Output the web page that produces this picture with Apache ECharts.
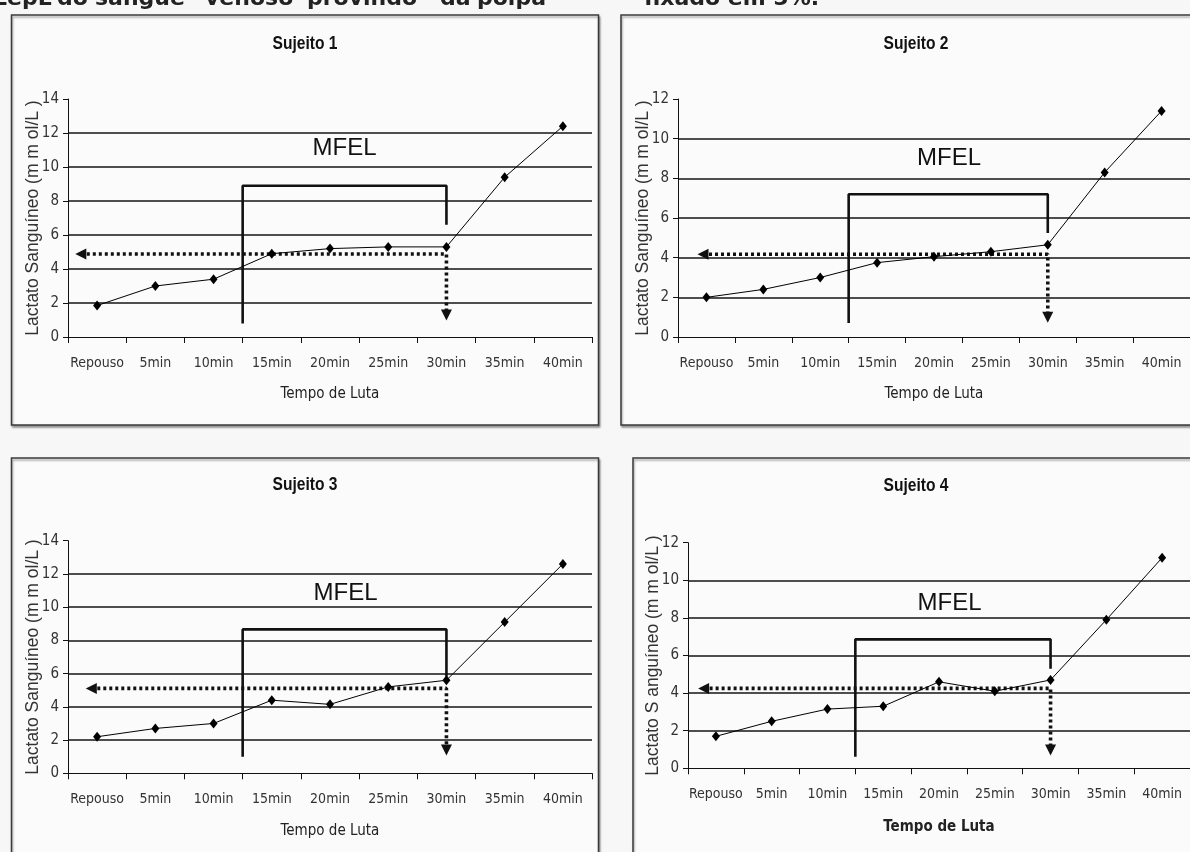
<!DOCTYPE html>
<html>
<head>
<meta charset="utf-8">
<script src="https://cdn.jsdelivr.net/npm/echarts@6/dist/echarts.min.js"></script>
<style>
html,body{margin:0;padding:0;background:#f7f7f7;}
#c{width:1190px;height:852px;}
</style>
</head>
<body>
<div id="c"></div>
<script>
// ---- data ----
const categories = ['Repouso','5min','10min','15min','20min','25min','30min','35min','40min'];
const titles = ['Sujeito 1','Sujeito 2','Sujeito 3','Sujeito 4'];
const lactate1 = [1.85, 3.0, 3.4, 4.9, 5.2, 5.3, 5.3, 9.4, 12.4];
const lactate2 = [2.0, 2.4, 3.0, 3.75, 4.05, 4.3, 4.65, 8.3, 11.4];
const lactate3 = [2.2, 2.7, 3.0, 4.4, 4.15, 5.2, 5.6, 9.1, 12.6];
const lactate4 = [1.7, 2.5, 3.15, 3.3, 4.6, 4.1, 4.7, 7.9, 11.2];
const yMax = [14, 12, 14, 12];
const yTicks = [0, 2, 4, 6, 8, 10, 12, 14];
const mfelLevel = [4.88, 4.17, 5.11, 4.25];        // dotted arrow level (mmol/L)
const bracketTop = [8.9, 7.2, 8.66, 6.86];
const bracketLeftBase = [0.8, 0.7, 1.0, 0.62];
const bracketRightBase = [6.6, 5.24, 5.81, 5.3];
const bracketStartIdx = 2.5;                        // between 10min and 15min
const bracketEndIdx = 6;                            // 30min
const arrowLeftIdx = [-0.28, -0.06, -0.10, -0.22];  // left arrow head (category units)
const arrowDownLevel = [1.29, 1.0, 1.4, 0.97];      // down arrow head (mmol/L)
const lactate = [lactate1, lactate2, lactate3, lactate4];

// ---- layout ----
const grids = [
  {left: 68,  top: 99,    width: 524, height: 238},
  {left: 678, top: 99,    width: 515, height: 238},
  {left: 68,  top: 540.7, width: 524, height: 232.6},
  {left: 688, top: 542.7, width: 506, height: 225.6}
];
const panels = [
  {x: 11.5, y: 15, w: 587, h: 410},
  {x: 621, y: 15, w: 600, h: 410},
  {x: 11.5, y: 458, w: 587, h: 420},
  {x: 633, y: 458, w: 600, h: 420}
];
const titlePos = [[305, 43.5], [916, 43.5], [305, 485], [916, 486]];
const mfelPos = [[344.5, 148], [949, 158], [345.5, 593], [949.5, 603]];
const xNameGap = [50, 50, 50, 51];

const COND = "'DejaVu Sans Condensed','DejaVu Sans',sans-serif";
const SANS = "'Liberation Sans',Arial,sans-serif";

const xAxes = [], yAxes = [], series = [], graphics = [];

panels.forEach(p => {
  graphics.push({type: 'rect', z: -10, shape: {x: p.x, y: p.y, width: p.w, height: p.h},
    style: {fill: '#fbfbfb', stroke: '#3a3a3a', lineWidth: 1.5,
      shadowColor: 'rgba(0,0,0,0.35)', shadowOffsetX: 1, shadowOffsetY: 2, shadowBlur: 2}});
});

for (let i = 0; i < 4; i++) {
  xAxes.push({
    type: 'category', gridIndex: i, data: categories, boundaryGap: true,
    axisLine: {onZero: false, lineStyle: {color: '#111', width: 1}},
    axisTick: {show: true, length: 6, lineStyle: {color: '#111'}},
    axisLabel: {color: '#333', fontFamily: COND, fontSize: 14, margin: 19, interval: 0},
    name: 'Tempo de Luta', nameLocation: 'middle', nameGap: xNameGap[i], nameMoveOverlap: false,
    nameTextStyle: {color: '#222', fontFamily: COND, fontSize: 15, fontWeight: i === 3 ? 'bold' : 'normal'},
    splitLine: {show: false}
  });
  yAxes.push({
    type: 'value', gridIndex: i, min: 0, max: yMax[i], interval: 2,
    axisLine: {show: true, onZero: false, lineStyle: {color: '#111', width: 1}},
    axisTick: {show: true, length: 5, lineStyle: {color: '#111'}},
    axisLabel: {color: '#333', fontFamily: COND, fontSize: 15, margin: 9,
      formatter: v => yTicks.includes(v) ? String(v) : ''},
    splitLine: {show: true, showMinLine: false, showMaxLine: false, lineStyle: {color: '#151515', width: 1.6}},
    name: i === 3 ? 'Lactato S anguíneo (m m ol/L )' : 'Lactato Sanguíneo (m m ol/L )',
    nameLocation: 'middle', nameGap: 26, nameRotate: 90, nameMoveOverlap: false,
    nameTextStyle: {color: '#333', fontFamily: SANS, fontSize: 17.5}
  });
}
// hidden numeric x axes for bracket and arrow (same band geometry)
for (let i = 0; i < 4; i++) {
  xAxes.push({type: 'value', gridIndex: i, min: -0.5, max: categories.length - 0.5, show: false,
    axisLine: {onZero: false}});
}

for (let i = 0; i < 4; i++) {
  series.push({
    type: 'line', name: titles[i] + ' MFEL', xAxisIndex: 4 + i, yAxisIndex: i, z: 3,
    symbol: 'none', silent: true, animation: false,
    lineStyle: {color: '#111', width: 2.6},
    data: [[bracketStartIdx, bracketLeftBase[i]], [bracketStartIdx, bracketTop[i]],
           [bracketEndIdx, bracketTop[i]], [bracketEndIdx, bracketRightBase[i]]]
  });
  series.push({
    type: 'line', name: titles[i] + ' arrow', xAxisIndex: 4 + i, yAxisIndex: i, z: 4,
    silent: true, animation: false, showSymbol: true, showAllSymbol: true,
    itemStyle: {color: '#111'},
    lineStyle: {color: '#111', width: 3.6, type: [3, 3], cap: 'butt'},
    data: [
      {value: [arrowLeftIdx[i], mfelLevel[i]], symbol: 'triangle', symbolRotate: 90, symbolSize: [11, 11]},
      {value: [bracketEndIdx, mfelLevel[i]], symbol: 'none'},
      {value: [bracketEndIdx, arrowDownLevel[i]], symbol: 'triangle', symbolRotate: 180, symbolSize: [11, 11]}
    ]
  });
  series.push({
    type: 'line', name: titles[i], xAxisIndex: i, yAxisIndex: i, z: 5, animation: false,
    symbol: 'diamond', symbolSize: [8, 10], showAllSymbol: true,
    itemStyle: {color: '#000'}, lineStyle: {color: '#000', width: 1},
    data: lactate[i]
  });
  graphics.push({type: 'text', z: 10, x: titlePos[i][0], y: titlePos[i][1], scaleX: 0.82,
    style: {text: titles[i], fill: '#111', font: "bold 19px " + SANS, textAlign: 'center', textVerticalAlign: 'middle'}});
  graphics.push({type: 'text', z: 10, x: mfelPos[i][0], y: mfelPos[i][1],
    style: {text: 'MFEL', fill: '#111', font: "24px " + SANS, textAlign: 'center', textVerticalAlign: 'middle'}});
}

// clipped line of body text above the figure
const headWords = [['LepL', -7], ['do', 57], ['sangue', 95], ['venoso', 205], ['provindo', 307], ['da', 440], ['polpa', 477],
                   ['fixado em 5%.', 644]];
headWords.forEach(w => graphics.push({type: 'text', z: 10, x: w[1], y: -1,
  style: {text: w[0], fill: '#222', font: "bold 22px 'DejaVu Sans',sans-serif", textAlign: 'left', textVerticalAlign: 'middle'}}));

const chart = echarts.init(document.getElementById('c'), null, {renderer: 'canvas'});
chart.setOption({
  backgroundColor: '#f7f7f7',
  animation: false,
  grid: grids.map(g => Object.assign({containLabel: false}, g)),
  xAxis: xAxes, yAxis: yAxes, series: series, graphic: graphics
});
</script>
</body>
</html>
